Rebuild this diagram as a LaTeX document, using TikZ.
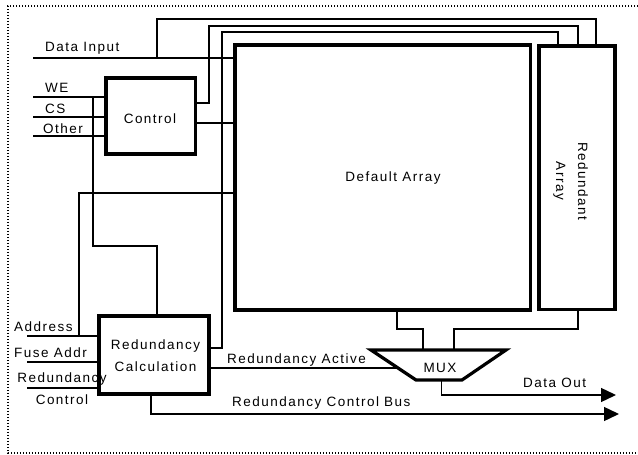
\documentclass[tikz,border=0pt]{standalone}
\usepackage{fontspec}
\setmainfont[LetterSpace=11]{Liberation Sans}
\usetikzlibrary{arrows.meta,calc}
\begin{document}
\begin{tikzpicture}[x=1pt,y=-1pt,
  font=\fontsize{13.5pt}{22pt}\selectfont,
  wire/.style={line width=1.4pt},
  blk/.style={draw,line width=3.2pt,inner sep=0pt,miter limit=10},
  lbl/.style={inner sep=0pt,anchor=base west},
  clbl/.style={inner sep=0pt,anchor=base},
  arr/.style={wire,-{Triangle[length=15pt,width=14pt]}},
  frame/.style={line width=1.3pt,dash pattern=on 1.3pt off 1.7pt}
]
\useasboundingbox (0,0) rectangle (638,455);
\draw[frame] (638,6) -- (8,6) -- (8,453) -- (638,453);

% blocks
\node[blk,minimum width=295.5pt,minimum height=265pt] (DA) at (382.75,177.5) {};
\node[blk,minimum width=76pt,minimum height=263.5pt] (RA) at (577,177.75) {};
\node[blk,minimum width=89.5pt,minimum height=76pt] (CT) at (150.75,116) {};
\node[blk,minimum width=110pt,minimum height=78pt] (RC) at (154,355) {};
\coordinate (m1) at (371,350);
\coordinate (m2) at (506,350);
\coordinate (m3) at (462,380);
\coordinate (m4) at (416,380);
\draw[blk] (m1) -- (m2) -- (m3) -- (m4) -- cycle;

% free ends
\coordinate (diL) at (33,58);
\coordinate (weL) at (33,97);
\coordinate (csL) at (33,117);
\coordinate (otL) at (33,136);
\coordinate (adL) at (27,336);
\coordinate (faL) at (27,362);
\coordinate (rcL) at (27,388);
\coordinate (doE) at (616,395);
\coordinate (busE) at (619,414);
\coordinate (dout) at ($(m4)!0.55!(m3)$);
\coordinate (rain) at ($(m1)!0.6!(m4)$);

% inputs
\draw[wire] (diL) -- (diL -| DA.west);
\draw[wire] (157,58) |- (596,19) -- (596,0 |- RA.north);
\draw[wire] (weL) -- (weL -| CT.west);
\draw[wire] (csL) -- (csL -| CT.west);
\draw[wire] (otL) -- (otL -| CT.west);
\draw[wire] (93,97) |- (157,246) -- (157,0 |- RC.north);
\draw[wire] (adL) -- (adL -| RC.west);
\draw[wire] (faL) -- (faL -| RC.west);
\draw[wire] (rcL) -- (rcL -| RC.west);
\draw[wire] (79,336) |- (DA.west |- 0,193);

% control outputs
\draw[wire] (CT.east |- 0,103) -| (209,26) -| (578,0 |- RA.north);
\draw[wire] (CT.east |- 0,123) -- (DA.west |- 0,123);

% redundancy calc outputs
\draw[wire] (RC.east |- 0,348) -| (222,32) -| (558,0 |- RA.north);
\draw[wire] (RC.east |- rain) -- (rain);
\draw[arr] (151,0 |- RC.south) |- (busE);

% mux
\draw[wire] (397,0 |- DA.south) |- (423,329) -- (423,0 |- m1);
\draw[wire] (578,0 |- RA.south) |- (454,329) -- (454,0 |- m1);
\draw[arr] (dout) |- (doE);

% texts
\node[clbl] (tDA) at (393,181) {Default Array};
\node[inner sep=0pt,align=center,rotate=-90] (tRA) at (570.5,181) {Redundant\\Array};
\node[clbl] (tCT) at (150,123) {Control};
\node[inner sep=0pt,align=center] (tRC) at (155.5,356) {Redundancy\\Calculation};
\node[clbl] (tMX) at (440,372) {MUX};
\node[lbl] (tDI) at (45,52) {Data Input};
\node[lbl] (tWE) at (45,92) {WE};
\node[lbl] (tCS) at (45,113) {CS};
\node[lbl] (tOT) at (43,133) {Other};
\node[lbl] (tAD) at (14,331) {Address};
\node[lbl] (tFA) at (14,357) {Fuse Addr};
\node[clbl] (tR1) at (62,382) {Redundancy};
\node[clbl] (tR2) at (62,404) {Control};
\node[lbl] (tRAc) at (227,363) {Redundancy Active};
\node[lbl] (tBus) at (232,406) {Redundancy Control Bus};
\node[lbl] (tDO) at (523,387) {Data Out};
\end{tikzpicture}
\end{document}
